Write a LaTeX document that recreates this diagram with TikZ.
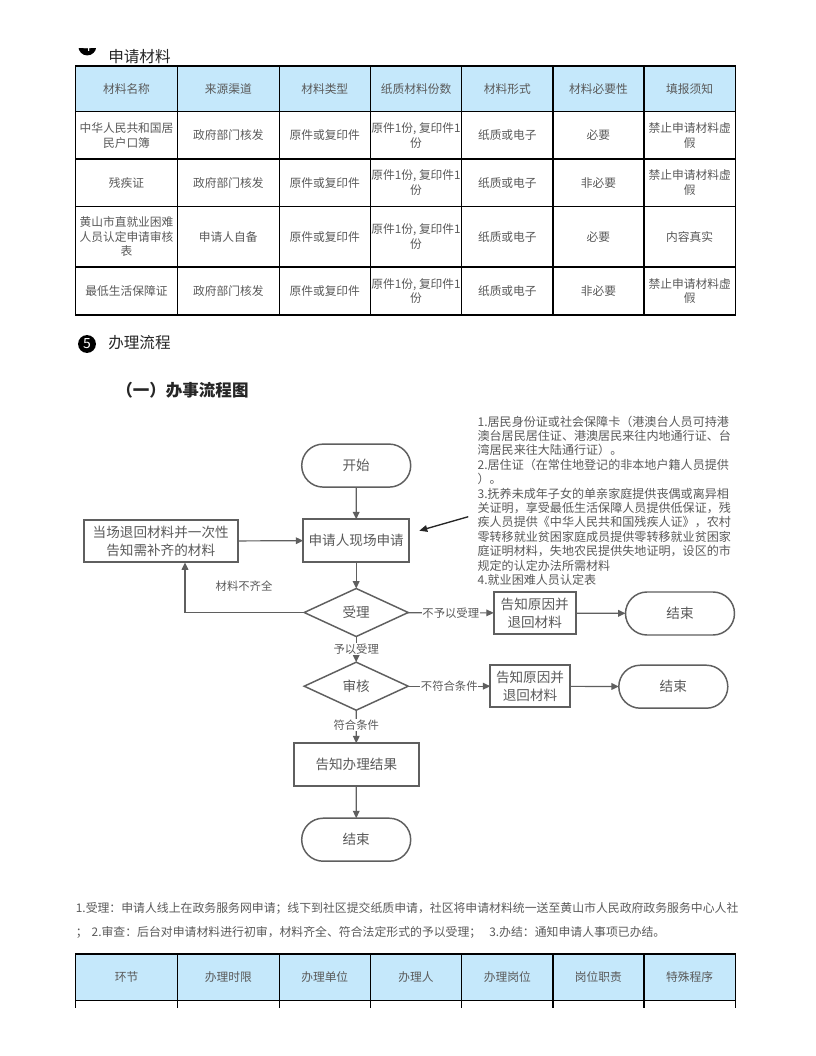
\documentclass[tikz,border=0pt]{standalone}
\usepackage{fontspec}
\setmainfont{Noto Sans CJK SC}
\usetikzlibrary{arrows.meta,shapes.geometric,shapes.misc}
\definecolor{hdr}{HTML}{C5E8FB}
\definecolor{txt}{HTML}{5A5A5A}
\definecolor{flow}{HTML}{5F5F5F}
\tikzset{
  sz/.style 2 args={minimum width=#1*0.75pt,minimum height=#2*0.75pt},
  celltext/.style={inner sep=0pt,align=center,text=txt,font=\fontsize{8.8}{11}\selectfont},
  cellbox/.style={draw=black,line width=1pt},
  headbox/.style={cellbox,fill=hdr},
  heading/.style={inner sep=0pt,anchor=west,text=black!85,font=\fontsize{11.7}{14}\selectfont},
  bullet/.style={circle,fill=black,text=white,inner sep=0pt,minimum size=13.4pt,font=\fontsize{10.5}{11}\selectfont},
  fnode/.style={draw=flow,line width=1.1pt,outer sep=0pt,inner sep=0pt,align=center,text=txt,font=\fontsize{10.2}{13.2}\selectfont},
  terminal/.style={fnode,rounded rectangle,sz={109}{43}},
  procbox/.style={fnode,rectangle,line width=1.5pt},
  decision/.style={fnode,diamond,aspect=2,sz={104}{48}},
  conn/.style={draw=flow,line width=0.9pt,-{Triangle[length=5.5pt,width=5pt]}},
  edgelabel/.style={fill=white,inner sep=0.6pt,text=txt,font=\fontsize{8.5}{10}\selectfont},
  notetext/.style={inner sep=0pt,anchor=north west,align=left,text=txt,font=\fontsize{9.05}{10.8}\selectfont},
  paratext/.style={inner sep=0pt,anchor=west,text=txt,font=\fontsize{8.9}{11}\selectfont},
}
\def\colx{{75.6,177.4,279.2,370.3,461.8,552.9,644,735.4}}
% #1 name prefix, #2 top, #3 bottom, #4 box style, #5 list of cell texts
\newcommand{\tablerow}[5]{%
  \foreach \t [count=\i from 0] in {#5} {
    \pgfmathsetmacro{\xa}{\colx[\i]}
    \pgfmathsetmacro{\xb}{\colx[\i+1]}
    \path[#4] (\xa,#2) rectangle (\xb,#3);
    \node[celltext] (#1-\i) at ({(\xa+\xb)/2},{(#2+#3)/2}) {\t};
  }
}
\begin{document}
\begin{tikzpicture}[x=0.75pt,y=-0.75pt]
\useasboundingbox (0,0) rectangle (816,1056);
\fill[white] (0,0) rectangle (816,1056);

% section 4 heading (bullet clipped by the page break)
\begin{scope}
  \clip (70,48.2) rectangle (105,60);
  \node[bullet] (b4) at (87.3,46.5) {4};
\end{scope}
\node[heading] (h4) at (108,56.7) {申请材料};

% table 1
\tablerow{a}{66}{111.7}{headbox}{材料名称,来源渠道,材料类型,纸质材料份数,材料形式,材料必要性,填报须知}
\tablerow{b}{111.7}{159}{cellbox}{中华人民共和国居\\民户口簿,政府部门核发,原件或复印件,{原件1份, 复印件1\\份},纸质或电子,必要,禁止申请材料虚\\假}
\tablerow{c}{159}{206.3}{cellbox}{残疾证,政府部门核发,原件或复印件,{原件1份, 复印件1\\份},纸质或电子,非必要,禁止申请材料虚\\假}
\tablerow{d}{206.3}{267}{cellbox}{黄山市直就业困难\\人员认定申请审核\\表,申请人自备,原件或复印件,{原件1份, 复印件1\\份},纸质或电子,必要,内容真实}
\tablerow{e}{267}{315}{cellbox}{最低生活保障证,政府部门核发,原件或复印件,{原件1份, 复印件1\\份},纸质或电子,非必要,禁止申请材料虚\\假}

% section 5 heading
\node[bullet] (b5) at (87,344) {5};
\node[heading] (h5) at (108,343) {办理流程};
\node[inner sep=0pt,anchor=west,text=black!85,font=\bfseries\fontsize{12.4}{15}\selectfont] (sub) at (116,390.7) {（一）办事流程图};

% flowchart
\node[terminal] (start) at (356.2,465.6) {开始};
\node[procbox,sz={106}{42.5}] (apply) at (356.2,540.5) {申请人现场申请};
\node[procbox,sz={154}{42.5}] (back) at (160.7,541.2) {当场退回材料并一次性\\告知需补齐的材料};
\node[decision] (accept) at (356.2,612.5) {受理};
\node[decision] (review) at (356.2,686.2) {审核};
\node[procbox,sz={124.7}{42.5}] (result) at (356.3,764.5) {告知办理结果};
\node[terminal] (end0) at (356.2,839.7) {结束};
\node[procbox,sz={82}{42}] (ret1) at (534.7,613) {告知原因并\\退回材料};
\node[terminal] (end1) at (680,613.5) {结束};
\node[procbox,sz={79.4}{42.3}] (ret2) at (530,686.2) {告知原因并\\退回材料};
\node[terminal] (end2) at (673.3,686.7) {结束};

\coordinate (loop) at (185,612.5);
\draw[conn] (start) -- (apply);
\draw[conn] (back) -- (apply);
\draw[conn] (apply) -- (accept);
\draw[conn] (accept.west) -- (loop) -- (back.south -| loop);
\node[edgelabel,fill=none] (lack) at (244,586) {材料不齐全};
\draw[conn] (accept) -- (review) node[edgelabel,pos=0.5] {予以受理};
\draw[conn] (accept) -- (ret1) node[edgelabel,pos=0.5] {不予以受理};
\draw[conn] (ret1) -- (end1);
\draw[conn] (review) -- (ret2) node[edgelabel,pos=0.5] {不符合条件};
\draw[conn] (ret2) -- (end2);
\draw[conn] (review) -- (result) node[edgelabel,pos=0.45] {符合条件};
\draw[conn] (result) -- (end0);

% note and its arrow
\node[notetext] (note) at (477.3,415.5) {1.居民身份证或社会保障卡（港澳台人员可持港\\澳台居民居住证、港澳居民来往内地通行证、台\\湾居民来往大陆通行证）。\\2.居住证（在常住地登记的非本地户籍人员提供\\）。\\3.抚养未成年子女的单亲家庭提供丧偶或离异相\\关证明，享受最低生活保障人员提供低保证，残\\疾人员提供《中华人民共和国残疾人证》，农村\\零转移就业贫困家庭成员提供零转移就业贫困家\\庭证明材料，失地农民提供失地证明，设区的市\\规定的认定办法所需材料\\4.就业困难人员认定表};
\coordinate (notefrom) at (468.3,516.7);
\coordinate (noteto) at (419.3,530.7);
\draw[line width=1pt,draw=black!85,-{Triangle[length=6pt,width=5pt]}] (notefrom) -- (noteto);

% process text
\begin{scope}
  \clip (70,895) rectangle (740.8,945);
  \node[paratext] (p1) at (75.6,908.3) {1.受理：申请人线上在政务服务网申请；线下到社区提交纸质申请，社区将申请材料统一送至黄山市人民政府政务服务中心人社};
  \node[paratext] (p2) at (75.6,932.3) {；\hspace{3pt}2.审查：后台对申请材料进行初审，材料齐全、符合法定形式的予以受理；\hspace{6pt}3.办结：通知申请人事项已办结。};
\end{scope}

% table 2 (cut at the page end)
\tablerow{f}{954}{1000.3}{headbox}{环节,办理时限,办理单位,办理人,办理岗位,岗位职责,特殊程序}
\foreach \i in {0,...,7} {
  \pgfmathsetmacro{\xa}{\colx[\i]}
  \draw[black,line width=1pt] (\xa,1000.3) -- (\xa,1008);
}
\end{tikzpicture}
\end{document}
